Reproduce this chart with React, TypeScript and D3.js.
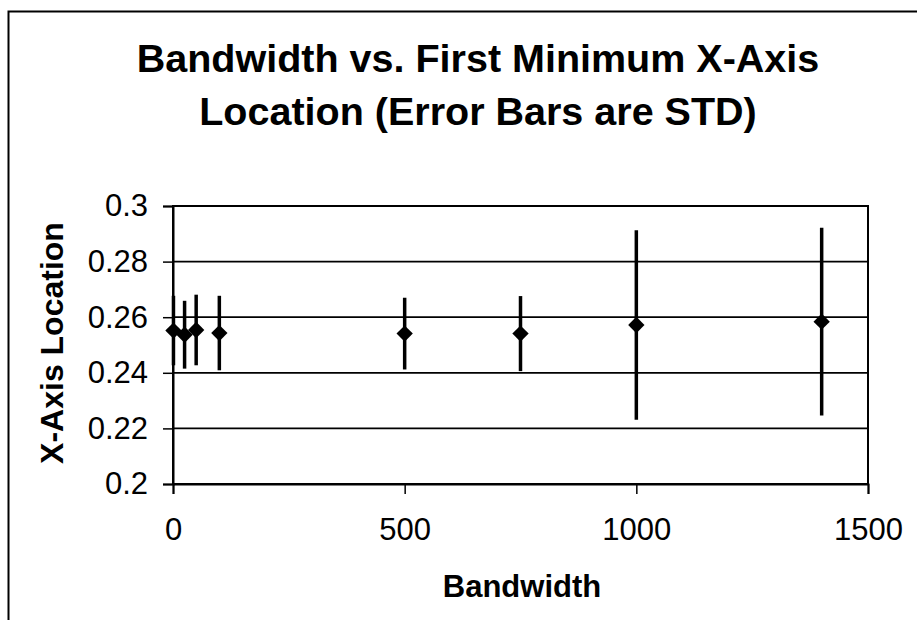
import { useEffect, useRef } from "react";
import * as d3 from "d3";

// Bandwidth values and measured first-minimum location (mean, std)
const bandwidth = [1, 25, 50, 100, 500, 750, 1000, 1400];
const meanLocation = [0.2552, 0.2537, 0.2554, 0.2543, 0.2541, 0.2541, 0.2572, 0.2584];
const stdLocation = [0.0125, 0.0122, 0.0127, 0.0134, 0.0129, 0.0135, 0.0341, 0.0338];

const xTicks = [0, 500, 1000, 1500];
const yTicks = [0.2, 0.22, 0.24, 0.26, 0.28, 0.3];

const titleLines = ["Bandwidth vs. First Minimum X-Axis", "Location (Error Bars are STD)"];

const WIDTH = 917;
const HEIGHT = 629;
const FONT = "'Liberation Sans', Arial, Helvetica, sans-serif";

const App = () => {
  const svgRef = useRef<SVGSVGElement | null>(null);

  useEffect(() => {
    if (!svgRef.current) return;
    const svg = d3.select(svgRef.current);
    svg.selectAll("*").remove();

    const plot = { left: 173, right: 868, top: 206, bottom: 484 };

    const x = d3.scaleLinear().domain([0, 1500]).range([plot.left, plot.right]);
    const y = d3.scaleLinear().domain([0.2, 0.3]).range([plot.bottom, plot.top]);

    // outer chart frame (left + top edges visible)
    svg
      .append("path")
      .attr("d", `M8.5,620 L8.5,11.5 L${WIDTH},11.5`)
      .attr("fill", "none")
      .attr("stroke", "#000")
      .attr("stroke-width", 2);

    // title
    const title = svg
      .append("text")
      .attr("x", 478)
      .attr("text-anchor", "middle")
      .attr("font-family", FONT)
      .attr("font-weight", "bold")
      .attr("font-size", 39.5)
      .attr("fill", "#000");
    titleLines.forEach((line, i) => {
      title
        .append("tspan")
        .attr("x", 478)
        .attr("y", 72 + i * 53)
        .text(line);
    });

    // gridlines
    svg
      .append("g")
      .selectAll("line")
      .data(yTicks)
      .join("line")
      .attr("x1", plot.left)
      .attr("x2", plot.right)
      .attr("y1", (d) => y(d))
      .attr("y2", (d) => y(d))
      .attr("stroke", "#000")
      .attr("stroke-width", 1.8);

    // plot frame
    svg
      .append("rect")
      .attr("x", plot.left)
      .attr("y", plot.top)
      .attr("width", plot.right - plot.left)
      .attr("height", plot.bottom - plot.top)
      .attr("fill", "none")
      .attr("stroke", "#000")
      .attr("stroke-width", 2);

    // axes
    const xAxis = d3
      .axisBottom(x)
      .tickValues(xTicks)
      .tickSize(10)
      .tickPadding(24)
      .tickFormat(d3.format("d"));
    const gx = svg
      .append("g")
      .attr("transform", `translate(0,${plot.bottom})`)
      .call(xAxis);
    gx.select(".domain").attr("stroke-width", 2);
    gx.selectAll(".tick line").attr("stroke-width", 1.5);
    gx.selectAll("text")
      .attr("font-family", FONT)
      .attr("font-size", 31)
      .attr("fill", "#000");

    const yAxis = d3
      .axisLeft(y)
      .tickValues(yTicks)
      .tickSize(10)
      .tickPadding(15)
      .tickFormat((d) => d3.format("")(+(+d).toFixed(2)));
    const gy = svg
      .append("g")
      .attr("transform", `translate(${plot.left},0)`)
      .call(yAxis);
    gy.select(".domain").attr("stroke-width", 2);
    gy.selectAll(".tick line").attr("stroke-width", 1.5);
    gy.selectAll("text")
      .attr("font-family", FONT)
      .attr("font-size", 31)
      .attr("fill", "#000");

    // axis titles
    svg
      .append("text")
      .attr("x", 522)
      .attr("y", 597)
      .attr("text-anchor", "middle")
      .attr("font-family", FONT)
      .attr("font-weight", "bold")
      .attr("font-size", 31)
      .text("Bandwidth");

    svg
      .append("text")
      .attr("transform", "translate(63,343) rotate(-90)")
      .attr("text-anchor", "middle")
      .attr("font-family", FONT)
      .attr("font-weight", "bold")
      .attr("font-size", 32)
      .text("X-Axis Location");

    const points = bandwidth.map((b, i) => ({
      b,
      mean: meanLocation[i],
      std: stdLocation[i],
    }));

    // error bars
    svg
      .append("g")
      .selectAll("line")
      .data(points)
      .join("line")
      .attr("x1", (d) => x(d.b))
      .attr("x2", (d) => x(d.b))
      .attr("y1", (d) => y(d.mean - d.std))
      .attr("y2", (d) => y(d.mean + d.std))
      .attr("stroke", "#000")
      .attr("stroke-width", 3.5);

    // diamond markers
    const diamond = d3.symbol().type(d3.symbolDiamond2).size(170);
    svg
      .append("g")
      .selectAll("path")
      .data(points)
      .join("path")
      .attr("transform", (d) => `translate(${x(d.b)},${y(d.mean)})`)
      .attr("d", diamond)
      .attr("fill", "#000");
  }, []);

  return (
    <svg
      ref={svgRef}
      width={WIDTH}
      height={HEIGHT}
      style={{ position: "absolute", left: 0, top: 0, background: "#fff" }}
    ></svg>
  );
};

export default App;
